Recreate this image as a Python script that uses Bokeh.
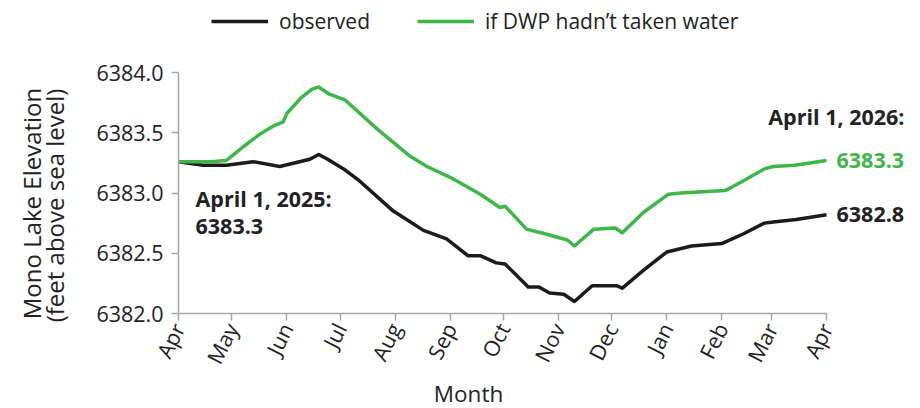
from bokeh.plotting import figure
from bokeh.models import (Range1d, FixedTicker, PrintfTickFormatter, Label,
                          Legend, LegendItem)
from bokeh.embed import file_html
from bokeh.resources import INLINE
import math

# ---- data (days since April 1, 2025) ----
month_ticks = [0, 30, 61, 91, 122, 153, 183, 214, 244, 275, 306, 334, 365]
month_labels = ["Apr", "May", "Jun", "Jul", "Aug", "Sep", "Oct", "Nov",
                "Dec", "Jan", "Feb", "Mar", "Apr"]
y_ticks = [6382.0, 6382.5, 6383.0, 6383.5, 6384.0]

obs_days = [0, 14, 27, 42, 57, 74, 79, 84, 93, 102, 121, 138, 151, 163, 170,
            179, 184, 197, 203, 209, 217, 223, 233, 247, 250, 262, 275, 289,
            306, 318, 330, 335, 348, 365]
obs_vals = [6383.26, 6383.23, 6383.23, 6383.26, 6383.22, 6383.28, 6383.32,
            6383.28, 6383.20, 6383.10, 6382.85, 6382.69, 6382.62, 6382.48,
            6382.48, 6382.42, 6382.41, 6382.22, 6382.22, 6382.17, 6382.16,
            6382.10, 6382.23, 6382.23, 6382.21, 6382.36, 6382.51, 6382.56,
            6382.58, 6382.66, 6382.75, 6382.76, 6382.78, 6382.82]

cf_days = [0, 18, 27, 37, 46, 54, 59, 61, 69, 75, 79, 85, 94, 112, 130, 140,
           153, 170, 181, 184, 196, 207, 219, 223, 234, 246, 250, 262, 276,
           283, 308, 318, 330, 335, 347, 365]
cf_vals = [6383.26, 6383.26, 6383.27, 6383.39, 6383.49, 6383.56, 6383.59,
           6383.66, 6383.79, 6383.86, 6383.88, 6383.82, 6383.77, 6383.53,
           6383.31, 6383.22, 6383.13, 6382.99, 6382.88, 6382.89, 6382.70,
           6382.66, 6382.61, 6382.56, 6382.70, 6382.71, 6382.67, 6382.84,
           6382.99, 6383.00, 6383.02, 6383.10, 6383.20, 6383.22, 6383.23,
           6383.27]

BLACK = "#1c1a1b"
GREEN = "#3fb54a"
AXIS = "#a6a6a6"
TEXT = "#222222"
FONT = "Open Sans"

# ---- layout geometry (pixels) ----
W, H = 920, 408
AX_L, AX_R = 178, 826      # x of day 0 and day 365
AX_T, AX_B = 72, 313       # y of 6384 and 6382
x0, x1 = month_ticks[0], month_ticks[-1]
y0, y1 = y_ticks[0], y_ticks[-1]
ppx = (AX_R - AX_L) / (x1 - x0)
ppy = (AX_B - AX_T) / (y1 - y0)
xr = Range1d(x0 - AX_L / ppx, x1 + (W - AX_R) / ppx)
yr = Range1d(y0 - (H - AX_B) / ppy, y1 + AX_T / ppy)

p = figure(width=W, height=H, output_backend="svg", toolbar_location=None,
           tools="", x_range=xr, y_range=yr, min_border=0)
p.outline_line_color = None
p.xgrid.visible = False
p.ygrid.visible = False

r_obs = p.line(obs_days, obs_vals, line_color=BLACK, line_width=3.5,
               line_join="round")
r_cf = p.line(cf_days, cf_vals, line_color=GREEN, line_width=3.5,
              line_join="round")

for ax in (p.xaxis[0], p.yaxis[0]):
    ax.axis_line_color = AXIS
    ax.axis_line_width = 1.5
    ax.major_tick_line_color = AXIS
    ax.major_tick_line_width = 1.5
    ax.major_tick_out = 7
    ax.major_tick_in = 0
    ax.minor_tick_line_color = None
    ax.major_label_text_font = FONT
    ax.major_label_text_font_size = "21.5px"
    ax.major_label_text_color = TEXT

p.xaxis.fixed_location = y0
p.xaxis.bounds = (x0, x1)
p.xaxis.ticker = FixedTicker(ticks=month_ticks)
p.xaxis.major_label_overrides = {t: l for t, l in zip(month_ticks, month_labels)}
p.xaxis.major_label_orientation = 1.1
p.xaxis.major_label_standoff = 4

p.yaxis.fixed_location = x0
p.yaxis.bounds = (y0, y1)
p.yaxis.ticker = FixedTicker(ticks=y_ticks)
p.yaxis.formatter = PrintfTickFormatter(format="%.1f")
p.yaxis.major_label_standoff = 8

# axis titles
p.add_layout(Label(x=31, y=H - 203, x_units="screen", y_units="screen",
                   angle=math.pi / 2, text="Mono Lake Elevation",
                   text_font=FONT, text_font_size="24px", text_color=TEXT,
                   text_align="center", text_baseline="middle"))
p.add_layout(Label(x=54, y=H - 205, x_units="screen", y_units="screen",
                   angle=math.pi / 2, text="(feet above sea level)",
                   text_font=FONT, text_font_size="24px", text_color=TEXT,
                   text_align="center", text_baseline="middle"))
p.add_layout(Label(x=468, y=H - 393, x_units="screen", y_units="screen",
                   text="Month", text_font=FONT, text_font_size="22.5px",
                   text_color=TEXT, text_align="center",
                   text_baseline="middle"))

# annotations
BOLD = dict(text_font=FONT, text_font_size="21.5px", text_font_style="bold")
p.add_layout(Label(x=obs_days[0], y=obs_vals[0], x_offset=17, y_offset=-37,
                   text="April 1, 2025:", text_color=TEXT,
                   text_baseline="middle", **BOLD))
p.add_layout(Label(x=obs_days[0], y=obs_vals[0], x_offset=17, y_offset=-65,
                   text=f"{obs_vals[0]:.1f}", text_color=TEXT,
                   text_baseline="middle", **BOLD))
p.add_layout(Label(x=cf_days[-1], y=cf_vals[-1], x_offset=78, y_offset=44,
                   text="April 1, 2026:", text_color=TEXT, text_align="right",
                   text_baseline="middle", **BOLD))
p.add_layout(Label(x=cf_days[-1], y=cf_vals[-1], x_offset=10,
                   text=f"{cf_vals[-1]:.1f}", text_color=GREEN,
                   text_baseline="middle", **BOLD))
p.add_layout(Label(x=obs_days[-1], y=obs_vals[-1], x_offset=10,
                   text=f"{obs_vals[-1]:.1f}", text_color=TEXT,
                   text_baseline="middle", **BOLD))

legend = Legend(items=[LegendItem(label="observed", renderers=[r_obs]),
                       LegendItem(label="if DWP hadn\u2019t taken water",
                                  renderers=[r_cf])],
                orientation="horizontal", location=(211, H - 35),
                glyph_width=57, glyph_height=20, label_height=20,
                label_standoff=11, spacing=47, padding=0, margin=0,
                border_line_color=None, background_fill_alpha=0,
                label_text_font=FONT, label_text_font_size="21px",
                label_text_color=TEXT)
p.add_layout(legend)

open("out.html", "w").write(file_html(p, INLINE))
